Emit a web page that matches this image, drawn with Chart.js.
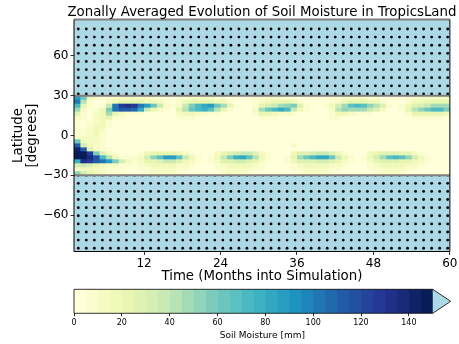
<!DOCTYPE html>
<html>
<head>
<meta charset="utf-8">
<script src="https://cdn.jsdelivr.net/npm/chart.js@4.4.1/dist/chart.umd.min.js"></script>
<style>
  html, body { margin: 0; padding: 0; background: #fff; }
  #wrap { position: relative; width: 459px; height: 344px; overflow: hidden; }
  #heat { position: absolute; left: 0; top: 0; }
  #cbar { position: absolute; left: 0; top: 282px; }
</style>
</head>
<body>
<div id="wrap">
  <canvas id="heat" width="459" height="285"></canvas>
  <canvas id="cbar" width="459" height="62"></canvas>
</div>
<script>
// month edges of the cells (x) and latitude edges of the rows (y, north to south)
const monthEdges = [1, 2, 3, 4, 5, 6, 7, 8, 9, 10, 11, 12, 13, 14, 15, 16, 17, 18, 19, 20,
  21, 22, 23, 24, 25, 26, 27, 28, 29, 30, 31, 32, 33, 34, 35, 36, 37, 38, 39, 40,
  41, 42, 43, 44, 45, 46, 47, 48, 49, 50, 51, 52, 53, 54, 55, 56, 57, 58, 59, 60];
const latEdges = [30, 27, 24, 21, 18, 15, 12, 9, 6, 3, 0, -3, -6, -9, -12, -15, -18, -21, -24, -27, -30];

// masked (non tropical) latitudes
const maskBands = [[30, 90], [-90, -30]];

// soil moisture [mm], one row per latitude band (north first), one value per month
const soilMoisture = [
  [85, 60, 15, 5, 3, 8, 10, 12, 12, 12, 12, 10, 8, 5, 3, 3, 5, 8, 10, 10, 10, 10, 8, 5, 3, 3, 3, 3, 5, 8, 10, 10, 10, 8, 5, 3, 3, 3, 3, 3, 5, 8, 10, 10, 10, 10, 8, 5, 3, 3, 3, 3, 5, 8, 10, 10, 10, 10, 10],
  [100, 40, 8, 3, 3, 12, 18, 20, 22, 22, 20, 18, 15, 10, 5, 3, 8, 15, 20, 22, 22, 20, 18, 15, 8, 3, 3, 3, 8, 12, 18, 20, 22, 20, 15, 8, 3, 3, 3, 3, 8, 12, 18, 22, 22, 22, 18, 15, 8, 3, 3, 3, 8, 15, 18, 22, 22, 22, 22],
  [70, 20, 5, 3, 8, 35, 100, 128, 130, 125, 100, 88, 62, 35, 12, 5, 12, 35, 55, 70, 82, 85, 62, 45, 20, 8, 3, 3, 8, 20, 30, 35, 45, 50, 55, 25, 8, 3, 3, 5, 15, 30, 45, 65, 70, 65, 50, 40, 25, 8, 3, 5, 15, 25, 30, 35, 45, 45, 45],
  [45, 12, 3, 8, 15, 55, 100, 112, 112, 105, 82, 35, 20, 10, 5, 3, 20, 40, 62, 72, 75, 65, 40, 20, 8, 3, 3, 3, 12, 45, 60, 70, 80, 70, 35, 15, 5, 3, 3, 3, 12, 40, 50, 45, 45, 45, 35, 25, 10, 3, 3, 5, 20, 40, 50, 60, 70, 70, 55],
  [25, 8, 3, 10, 15, 45, 20, 12, 8, 8, 5, 3, 3, 3, 3, 3, 12, 15, 15, 12, 10, 8, 5, 3, 3, 3, 3, 3, 8, 20, 20, 15, 12, 10, 5, 3, 3, 3, 3, 3, 5, 15, 15, 10, 8, 8, 5, 3, 3, 3, 3, 3, 8, 20, 22, 20, 20, 20, 15],
  [12, 5, 3, 12, 15, 20, 8, 5, 3, 3, 3, 3, 3, 3, 3, 3, 5, 8, 5, 3, 3, 3, 3, 3, 3, 3, 3, 3, 3, 8, 8, 5, 3, 3, 3, 3, 3, 3, 3, 3, 8, 5, 3, 3, 3, 3, 3, 3, 3, 3, 3, 3, 3, 8, 8, 5, 5, 5, 3],
  [8, 3, 5, 12, 15, 8, 3, 3, 3, 3, 3, 3, 3, 3, 3, 3, 3, 3, 3, 3, 3, 3, 3, 3, 3, 3, 3, 3, 3, 3, 3, 3, 3, 3, 3, 3, 3, 3, 3, 3, 3, 3, 3, 3, 3, 3, 3, 3, 3, 3, 3, 3, 3, 3, 3, 3, 3, 3, 3],
  [5, 3, 8, 15, 15, 5, 3, 3, 3, 3, 3, 3, 3, 3, 3, 3, 3, 3, 3, 3, 3, 3, 3, 3, 3, 3, 3, 3, 3, 3, 3, 3, 3, 3, 3, 3, 3, 3, 3, 3, 3, 3, 3, 3, 3, 3, 3, 3, 3, 3, 3, 3, 3, 3, 3, 3, 3, 3, 3],
  [5, 5, 10, 15, 12, 3, 3, 3, 3, 3, 3, 3, 3, 3, 3, 3, 3, 3, 3, 3, 3, 3, 3, 3, 3, 3, 3, 3, 3, 3, 3, 3, 3, 3, 3, 3, 3, 3, 3, 3, 3, 3, 3, 3, 3, 3, 3, 3, 3, 3, 3, 3, 3, 3, 3, 3, 3, 3, 3],
  [5, 8, 12, 15, 8, 3, 3, 3, 3, 3, 3, 3, 3, 3, 3, 3, 3, 3, 3, 3, 3, 3, 3, 3, 3, 3, 3, 3, 3, 3, 3, 3, 3, 3, 3, 3, 3, 3, 3, 3, 3, 3, 3, 3, 3, 3, 3, 3, 3, 3, 3, 3, 3, 3, 3, 3, 3, 3, 3],
  [12, 10, 12, 12, 5, 3, 3, 3, 3, 3, 3, 3, 3, 3, 3, 3, 3, 3, 3, 3, 3, 3, 3, 3, 3, 3, 3, 3, 3, 3, 3, 3, 3, 3, 3, 3, 3, 3, 3, 3, 3, 3, 3, 3, 3, 3, 3, 3, 3, 3, 3, 3, 3, 3, 3, 3, 3, 3, 3],
  [60, 15, 12, 10, 5, 3, 3, 3, 3, 3, 3, 3, 3, 3, 3, 3, 3, 3, 3, 3, 3, 3, 3, 3, 3, 3, 3, 3, 3, 3, 3, 3, 3, 3, 3, 3, 3, 3, 3, 3, 3, 3, 3, 3, 3, 3, 3, 3, 3, 3, 3, 3, 3, 3, 3, 3, 3, 3, 3],
  [110, 30, 15, 10, 5, 3, 3, 3, 3, 3, 3, 3, 3, 3, 3, 3, 3, 3, 3, 3, 3, 3, 3, 3, 3, 3, 3, 3, 3, 3, 3, 3, 3, 3, 12, 3, 3, 3, 3, 3, 3, 3, 3, 3, 3, 3, 3, 3, 3, 3, 3, 3, 3, 3, 3, 3, 3, 3, 3],
  [140, 110, 25, 12, 8, 5, 3, 3, 3, 3, 3, 3, 3, 3, 3, 3, 3, 3, 3, 3, 3, 3, 3, 3, 3, 3, 3, 3, 3, 3, 3, 3, 3, 3, 3, 3, 3, 3, 3, 3, 3, 3, 3, 3, 3, 3, 3, 3, 3, 3, 3, 3, 3, 3, 3, 3, 3, 3, 3],
  [148, 148, 125, 55, 25, 12, 5, 3, 3, 3, 8, 15, 20, 22, 22, 20, 15, 10, 5, 3, 3, 3, 12, 20, 25, 30, 35, 35, 25, 12, 5, 3, 3, 3, 15, 25, 25, 30, 35, 35, 25, 15, 5, 3, 3, 3, 15, 20, 25, 25, 25, 22, 20, 12, 5, 3, 3, 3, 3],
  [148, 145, 135, 115, 70, 40, 15, 8, 5, 5, 12, 30, 50, 68, 88, 85, 65, 35, 15, 5, 3, 5, 15, 35, 55, 78, 82, 65, 40, 15, 5, 3, 3, 5, 20, 45, 60, 70, 80, 80, 60, 35, 18, 5, 3, 5, 15, 30, 45, 65, 70, 68, 50, 30, 15, 5, 3, 3, 3],
  [75, 130, 125, 110, 100, 85, 55, 30, 15, 8, 10, 20, 22, 25, 35, 35, 25, 15, 10, 5, 3, 5, 12, 25, 25, 30, 30, 25, 20, 12, 5, 3, 3, 5, 15, 25, 25, 25, 30, 30, 25, 20, 12, 5, 3, 5, 12, 20, 25, 25, 25, 22, 20, 15, 10, 5, 3, 3, 3],
  [30, 35, 30, 20, 15, 12, 10, 8, 5, 5, 8, 12, 15, 15, 15, 15, 12, 10, 5, 3, 3, 3, 8, 12, 15, 15, 15, 15, 12, 8, 3, 3, 3, 3, 8, 12, 15, 15, 15, 15, 12, 10, 8, 3, 3, 3, 8, 12, 15, 15, 15, 15, 12, 10, 5, 3, 3, 3, 3],
  [10, 15, 15, 12, 10, 8, 5, 5, 3, 3, 5, 8, 10, 10, 10, 10, 8, 5, 3, 3, 3, 3, 5, 8, 10, 10, 10, 10, 8, 5, 3, 3, 3, 3, 5, 8, 10, 10, 10, 10, 8, 5, 3, 3, 3, 3, 5, 8, 10, 10, 10, 10, 8, 5, 3, 3, 3, 3, 3],
  [50, 30, 20, 15, 12, 8, 5, 5, 3, 3, 3, 8, 10, 10, 10, 10, 8, 3, 3, 3, 3, 3, 3, 8, 10, 10, 10, 8, 3, 3, 3, 3, 3, 3, 3, 8, 10, 10, 10, 10, 8, 3, 3, 3, 3, 3, 3, 8, 10, 10, 10, 8, 3, 3, 3, 3, 3, 3, 3]
];

// colour levels of the colorbar and tick labels
const levelBounds = [0, 5, 10, 15, 20, 25, 30, 35, 40, 45, 50, 55, 60, 65, 70, 75, 80, 85, 90, 95, 100,
  105, 110, 115, 120, 125, 130, 135, 140, 145, 150];
const cbarTicks = [0, 20, 40, 60, 80, 100, 120, 140];
const xTicks = [12, 24, 36, 48, 60];
const yTicks = [-60, -30, 0, 30, 60];

const titleText = "Zonally Averaged Evolution of Soil Moisture in TropicsLand";
const ylGnBu = ["#ffffd9", "#edf8b1", "#c7e9b4", "#7fcdbb", "#41b6c4", "#1d91c0", "#225ea8", "#253494", "#081d58"];
const overColor = "#add8e6";
const maskColor = "#add8e6";

Chart.defaults.font.family = "'DejaVu Sans', sans-serif";
Chart.defaults.color = "#000";

function hexToRgb (h) {
  return [1, 3, 5].map((i) => parseInt(h.slice(i, i + 2), 16));
}

function cmap (t) {
  const n = ylGnBu.length - 1;
  const p = Math.min(Math.max(t, 0), 1) * n;
  const i = Math.min(Math.floor(p), n - 1);
  const f = p - i;
  const a = hexToRgb(ylGnBu[i]);
  const b = hexToRgb(ylGnBu[i + 1]);
  return `rgb(${a.map((v, k) => Math.round(v + (b[k] - v) * f)).join(",")})`;
}

const nLevels = levelBounds.length - 1;
const levelColors = levelBounds.slice(0, -1).map((_, i) => cmap(i / (nLevels - 1)));

function colorFor (v) {
  if (v >= levelBounds[nLevels]) return overColor;
  let i = 0;
  while (i < nLevels - 1 && v >= levelBounds[i + 1]) i++;
  return levelColors[i];
}

const minusFmt = (v) => (v < 0 ? "\u2212" + Math.abs(v) : String(v));

const heatmapPlugin = {
  id: "heatmap",
  beforeDatasetsDraw (chart) {
    const { ctx, chartArea: area, scales: { x, y } } = chart;
    ctx.save();
    ctx.beginPath();
    ctx.rect(area.left, area.top, area.right - area.left, area.bottom - area.top);
    ctx.clip();

    soilMoisture.forEach((row, r) => {
      const y0 = y.getPixelForValue(latEdges[r]);
      const y1 = y.getPixelForValue(latEdges[r + 1]);
      row.forEach((v, c) => {
        const x0 = x.getPixelForValue(monthEdges[c]);
        const x1 = x.getPixelForValue(monthEdges[c + 1]);
        ctx.fillStyle = colorFor(v);
        ctx.fillRect(x0, y0, x1 - x0 + 0.6, y1 - y0 + 0.6);
      });
    });

    // land outside the tropics, hatched with dots
    maskBands.forEach(([lo, hi]) => {
      const yTop = Math.max(y.getPixelForValue(hi), area.top);
      const yBot = Math.min(y.getPixelForValue(lo), area.bottom);
      ctx.save();
      ctx.beginPath();
      ctx.rect(area.left, yTop, area.right - area.left, yBot - yTop);
      ctx.clip();
      ctx.fillStyle = maskColor;
      ctx.fillRect(area.left, yTop, area.right - area.left, yBot - yTop);
      ctx.fillStyle = "#000";
      for (let py = area.top + 9.5; py < area.bottom + 2; py += 8.12) {
        if (py < yTop - 2 || py > yBot + 2) continue;
        for (let px = area.left + 4.3; px < area.right + 2; px += 8.03) {
          ctx.beginPath();
          ctx.arc(px, py, 1.4, 0, Math.PI * 2);
          ctx.fill();
        }
      }
      ctx.restore();
    });
    ctx.restore();
  },
  afterDraw (chart) {
    const { ctx, chartArea: area, scales: { y } } = chart;
    ctx.save();
    // mask boundaries
    ctx.strokeStyle = "#7f7f7f";
    ctx.lineWidth = 2;
    [maskBands[0][0], maskBands[1][1]].forEach((lat) => {
      const py = y.getPixelForValue(lat);
      ctx.beginPath();
      ctx.moveTo(area.left, py);
      ctx.lineTo(area.right, py);
      ctx.stroke();
    });
    ctx.beginPath();
    ctx.moveTo(area.left, area.top);
    ctx.lineTo(area.right, area.top);
    ctx.stroke();
    // frame
    ctx.strokeStyle = "#000";
    ctx.lineWidth = 1;
    ctx.beginPath();
    ctx.moveTo(area.left, area.top);
    ctx.lineTo(area.left, area.bottom);
    ctx.lineTo(area.right, area.bottom);
    ctx.lineTo(area.right, area.top);
    ctx.stroke();
    // title
    ctx.fillStyle = "#000";
    ctx.font = "13.33px 'DejaVu Sans', sans-serif";
    ctx.textAlign = "center";
    ctx.textBaseline = "alphabetic";
    ctx.fillText(titleText, (area.left + area.right) / 2, 16);
    ctx.restore();
  }
};

new Chart(document.getElementById("heat"), {
  type: "scatter",
  data: { datasets: [{ data: [] }] },
  options: {
    responsive: false,
    animation: false,
    layout: { padding: { left: 0, right: 8, top: 19.5, bottom: 0 } },
    plugins: { legend: { display: false }, tooltip: { enabled: false } },
    scales: {
      x: {
        type: "linear",
        min: monthEdges[0],
        max: monthEdges[monthEdges.length - 1],
        afterBuildTicks: (scale) => { scale.ticks = xTicks.map((v) => ({ value: v })); },
        afterFit: (scale) => { scale.height = 33.5; },
        grid: { drawOnChartArea: false, drawTicks: true, tickLength: 3.5, tickColor: "#000", tickWidth: 0.8 },
        border: { display: false },
        ticks: { font: { size: 12 }, padding: 1.5, maxRotation: 0, autoSkip: false, callback: (v) => minusFmt(v) },
        title: { display: true, text: "Time (Months into Simulation)", font: { size: 13.33 }, padding: { top: 0, bottom: 0 } }
      },
      y: {
        type: "linear",
        min: -87.5,
        max: 87.5,
        afterBuildTicks: (scale) => { scale.ticks = yTicks.map((v) => ({ value: v })); },
        afterFit: (scale) => { scale.width = 74; },
        grid: { drawOnChartArea: false, drawTicks: true, tickLength: 3.5, tickColor: "#000", tickWidth: 0.8 },
        border: { display: false },
        ticks: { font: { size: 12 }, padding: 2, autoSkip: false, callback: (v) => minusFmt(v) },
        title: { display: true, text: ["Latitude", "[degrees]"], font: { size: 13.33, lineHeight: 1.05 }, padding: { top: 12 } }
      }
    }
  },
  plugins: [heatmapPlugin]
});

// colorbar
const colorbarPlugin = {
  id: "colorbarFrame",
  afterDatasetsDraw (chart) {
    const { ctx, chartArea: area, scales: { x } } = chart;
    const x0 = x.getPixelForValue(levelBounds[0]);
    const x1 = x.getPixelForValue(levelBounds[nLevels]);
    const x2 = x.getPixelForValue(x.max);
    const midY = (area.top + area.bottom) / 2;
    ctx.save();
    ctx.beginPath();
    ctx.moveTo(x1, area.top);
    ctx.lineTo(x2, midY);
    ctx.lineTo(x1, area.bottom);
    ctx.closePath();
    ctx.fillStyle = overColor;
    ctx.fill();
    ctx.strokeStyle = "#000";
    ctx.lineWidth = 0.8;
    ctx.beginPath();
    ctx.moveTo(x0, area.top);
    ctx.lineTo(x1, area.top);
    ctx.lineTo(x2, midY);
    ctx.lineTo(x1, area.bottom);
    ctx.lineTo(x0, area.bottom);
    ctx.closePath();
    ctx.stroke();
    ctx.restore();
  }
};

new Chart(document.getElementById("cbar"), {
  type: "bar",
  data: {
    labels: [""],
    datasets: levelBounds.slice(0, -1).map((lo, i) => ({
      data: [[lo, levelBounds[i + 1]]],
      backgroundColor: levelColors[i],
      borderWidth: 0,
      barPercentage: 1,
      categoryPercentage: 1,
      grouped: false
    }))
  },
  options: {
    indexAxis: "y",
    responsive: false,
    animation: false,
    layout: { padding: { left: 74, right: 8.3, top: 7.3, bottom: 0 } },
    plugins: { legend: { display: false }, tooltip: { enabled: false } },
    scales: {
      x: {
        type: "linear",
        min: 0,
        max: 157.5,
        afterBuildTicks: (scale) => { scale.ticks = cbarTicks.map((v) => ({ value: v })); },
        afterFit: (scale) => { scale.height = 30.7; },
        grid: { drawOnChartArea: false, drawTicks: true, tickLength: 3, tickColor: "#000", tickWidth: 0.8 },
        border: { display: false },
        ticks: { font: { size: 8 }, padding: 1.5, maxRotation: 0, autoSkip: false },
        title: { display: true, text: "Soil Moisture [mm]", font: { size: 9 }, padding: { top: 0, bottom: 3 } }
      },
      y: { display: false }
    }
  },
  plugins: [colorbarPlugin]
});
</script>
</body>
</html>
